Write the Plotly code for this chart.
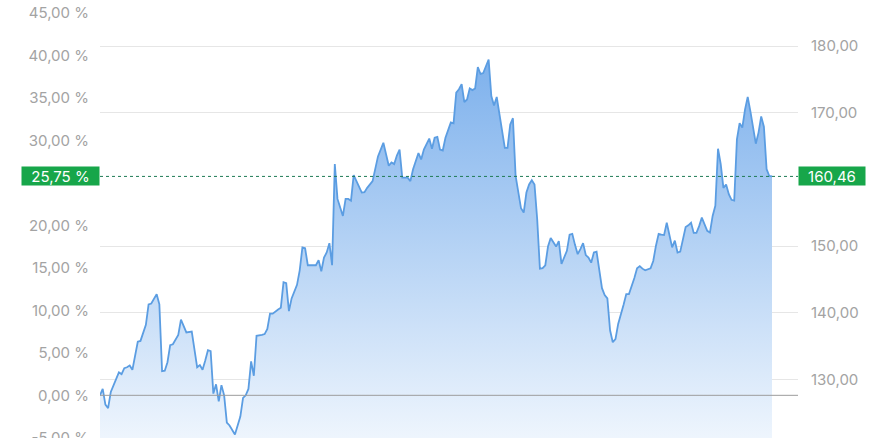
import plotly.graph_objects as go

# trading-day index and performance in %
days = [0, 1, 2, 3, 4, 6, 7, 8, 9, 10, 11, 12, 13, 14, 15, 16, 17, 18, 19, 21,
        22, 23, 24, 25, 26, 27, 28, 29, 30, 31, 32, 34, 35, 36, 37, 38, 39, 40, 41, 42,
        43, 44, 45, 46, 47, 48, 50, 51, 52, 53, 54, 55, 56, 57, 58, 60, 61, 62, 63, 64,
        65, 66, 67, 68, 69, 70, 71, 73, 74, 75, 76, 77, 79, 80, 81, 82, 83, 84, 85, 86,
        87, 88, 90, 91, 92, 93, 94, 95, 96, 97, 98, 99, 101, 102, 103, 105, 106, 107, 108, 109,
        110, 111, 112, 114, 115, 116, 118, 119, 120, 121, 122, 123, 124, 125, 126, 127, 128, 130, 131, 132,
        133, 134, 135, 136, 137, 138, 139, 140, 141, 142, 144, 145, 146, 147, 148, 149, 150, 151, 152, 153,
        154, 156, 157, 158, 159, 160, 161, 162, 163, 164, 165, 166, 167, 169, 170, 171, 172, 173, 174, 175,
        176, 177, 178, 179, 180, 181, 182, 183, 184, 186, 187, 188, 189, 190, 191, 192, 194, 195, 196, 197,
        198, 199, 200, 201, 202, 204, 205, 206, 207, 208, 209, 210, 212, 213, 214, 215, 216, 217, 218, 219,
        220, 221, 222, 223, 225, 226, 227, 228, 229, 230, 231, 232, 233, 234, 235, 236, 237, 238, 239, 240,
        241, 242, 243, 244, 245, 246, 247, 248, 249]

perf = [0.0, 0.75, -1.1, -1.5, 0.4, 2.1, 2.7, 2.5, 3.2, 3.3, 3.5, 3.0, 4.7, 6.3, 6.4, 7.3, 8.3, 10.7, 10.8, 11.9,
        10.7, 2.85, 2.9, 3.9, 5.9, 6.0, 6.6, 7.1, 8.9, 8.2, 7.4, 7.5, 5.1, 3.3, 3.55, 3.0, 4.1, 5.3, 5.2, 0.2,
        1.3, -0.7, 1.2, 0.0, -3.2, -3.55, -4.6, -3.5, -2.5, -0.3, 0.0, 0.75, 4.0, 2.3, 7.0, 7.1, 7.2, 7.8, 9.6, 9.6,
        9.9, 10.1, 10.3, 13.3, 13.2, 9.9, 11.4, 13.0, 14.7, 17.4, 17.3, 15.3, 15.3, 15.3, 15.9, 14.6, 16.2, 16.8, 17.9, 15.3,
        27.2, 23.1, 21.1, 23.1, 23.1, 22.9, 25.9, 25.2, 24.6, 23.85, 23.9, 24.4, 25.2, 26.8, 28.1, 29.7, 28.5, 27.0, 27.4, 27.2,
        28.2, 28.9, 25.6, 25.6, 25.2, 26.6, 28.5, 27.75, 28.9, 29.6, 30.2, 29.0, 30.3, 30.4, 28.9, 28.8, 30.3, 32.1, 32.0, 35.6,
        36.0, 36.6, 34.5, 34.8, 36.1, 35.9, 36.1, 38.6, 37.8, 37.9, 39.5, 35.2, 34.1, 35.1, 33.2, 31.0, 29.1, 29.1, 31.85, 32.6,
        25.8, 22.0, 21.5, 23.85, 24.8, 25.3, 24.8, 20.7, 14.9, 14.95, 15.3, 17.5, 18.5, 17.5, 18.15, 15.45, 16.2, 17.0, 18.9, 19.0,
        17.7, 16.6, 17.2, 17.9, 16.5, 16.2, 15.6, 16.8, 16.9, 12.6, 11.8, 11.4, 7.65, 6.25, 6.6, 8.4, 10.65, 11.9, 11.9, 12.8,
        13.8, 14.95, 15.2, 14.9, 14.7, 14.95, 15.8, 17.6, 19.0, 18.9, 18.85, 20.3, 17.4, 18.2, 16.8, 16.9, 18.3, 19.8, 20.0, 20.3,
        19.1, 19.1, 19.9, 20.9, 19.35, 19.15, 21.1, 22.3, 29.0, 27.2, 24.4, 24.8, 23.65, 23.0, 22.9, 30.1, 32.0, 31.5, 33.6, 35.1,
        33.4, 31.5, 29.6, 30.9, 32.8, 31.6, 26.6, 25.8, 25.75]

last_perf = 25.75
last_price = 160.46
# 25 % and 160 are hidden behind the current-value badges in the reference
perf_ticks = [-5, 0, 5, 10, 15, 20, 30, 35, 40, 45]
price_ticks = [130, 140, 150, 170, 180]


def de(v, dec=2):
    return f"{v:.{dec}f}".replace(".", ",")


perf_ticktext = [de(v) + " %" for v in perf_ticks]
price_ticktext = [de(v) for v in price_ticks]

base_price = last_price / (1 + last_perf / 100)
prices = [base_price * (1 + p / 100) for p in perf]

y_lo, y_hi = -5.02, 46.5
x_hi = days[-1] * 698 / 672

GREEN = "#17a64a"
LABEL = "#a3a3a3"
FONT = "Inter, Roboto, sans-serif"

fig = go.Figure()
fig.add_trace(go.Scatter(x=[days[0], days[-1]], y=[y_lo, y_lo], mode="lines",
                         line=dict(width=0, color="rgba(0,0,0,0)"), hoverinfo="skip",
                         showlegend=False))
fig.add_trace(go.Scatter(
    x=days, y=perf, mode="lines", fill="tonexty",
    line=dict(color="#5b9de2", width=1.8),
    fillgradient=dict(type="vertical", start=y_lo, stop=40,
                      colorscale=[[0, "#eef5fd"], [1, "#7cb0ec"]]),
    showlegend=False))
fig.add_trace(go.Scatter(x=days, y=prices, yaxis="y2", mode="lines",
                         line=dict(width=0, color="rgba(0,0,0,0)"), hoverinfo="skip",
                         showlegend=False))

# 0 % baseline above the fill
fig.add_shape(type="line", xref="paper", x0=0, x1=1, yref="y", y0=0, y1=0,
              line=dict(color="#9c9c9c", width=1), layer="above")
fig.add_shape(type="line", xref="paper", x0=0, x1=1, yref="y", y0=last_perf, y1=last_perf,
              line=dict(color="#1e7a55", width=1, dash="dot"))

fig.add_annotation(xref="paper", x=0, xanchor="right", yref="y", y=last_perf,
                   text=de(last_perf) + " %", showarrow=False, bgcolor=GREEN,
                   width=77, height=18, borderpad=0,
                   font=dict(color="white", size=15, family=FONT))
fig.add_annotation(xref="paper", x=1, xanchor="left", yref="y", y=last_perf,
                   text=de(last_price), showarrow=False, bgcolor=GREEN,
                   width=66, height=18, borderpad=0,
                   font=dict(color="white", size=15, family=FONT))

fig.update_layout(
    width=886, height=438,
    margin=dict(l=100, r=88, t=0, b=0),
    paper_bgcolor="white", plot_bgcolor="white",
    font=dict(family=FONT, color=LABEL, size=15),
    xaxis=dict(range=[0, x_hi], visible=False, automargin=False),
    yaxis=dict(range=[y_lo, y_hi], tickmode="array", tickvals=perf_ticks, ticktext=perf_ticktext,
               showgrid=False, zeroline=False,
               showline=False, ticks="", ticklabelstandoff=10, ticklabeloverflow="allow",
               automargin=False, layer="above traces"),
    yaxis2=dict(overlaying="y", side="right",
                range=[base_price * (1 + y_lo / 100), base_price * (1 + y_hi / 100)],
                tickmode="array", tickvals=price_ticks, ticktext=price_ticktext,
                showgrid=True, gridcolor="rgba(200,200,200,0.45)",
                gridwidth=1, zeroline=False, showline=False, ticks="", ticklabelstandoff=12,
                ticklabeloverflow="allow", automargin=False, layer="above traces"),
)

fig.write_html("out.html", config={"displayModeBar": False},
               post_script="document.body.style.margin='0';")
